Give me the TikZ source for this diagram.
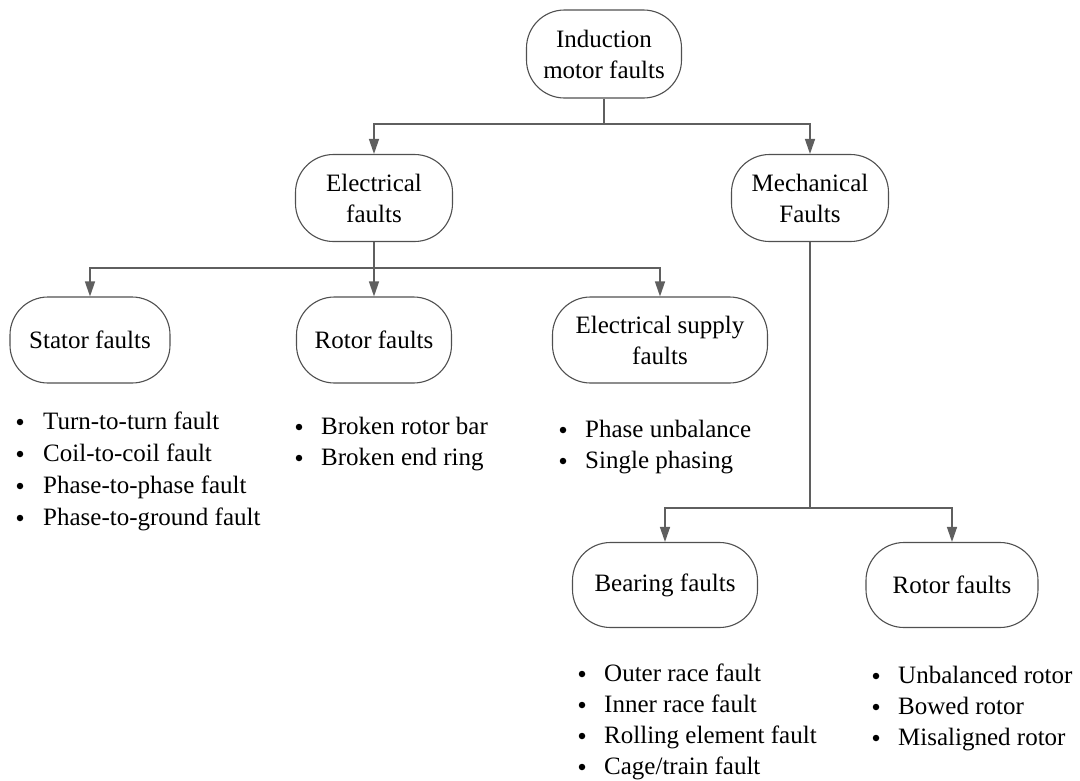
\documentclass[tikz,border=0pt]{standalone}
\usepackage{fontspec}
\setmainfont{Liberation Serif}
\usetikzlibrary{arrows.meta}
\definecolor{linec}{RGB}{95,95,95}
\definecolor{boxc}{RGB}{80,80,80}
\begin{document}
\begin{tikzpicture}[x=1pt,y=-1pt,
  box/.style={draw=boxc, line width=1.1pt, rounded corners=38pt, align=center, inner sep=0pt,
    font=\fontsize{25}{31}\selectfont},
  conn/.style={draw=linec, line width=1.4pt},
  arr/.style={conn, -{Triangle[width=10pt,length=15pt]}},
  item/.style={anchor=base west, inner sep=0pt, font=\fontsize{25}{30}\selectfont},
  bul/.style={circle, fill=black, inner sep=0pt, minimum size=6.5pt}
]
\useasboundingbox (0,0) rectangle (1080,780);

% boxes
\node[box, minimum width=155pt, minimum height=88pt] (top) at (604,54) {Induction\\motor faults};
\node[box, minimum width=157pt, minimum height=87pt] (elec) at (374,198) {Electrical\\faults};
\node[box, minimum width=157pt, minimum height=87pt] (mech) at (810,198) {Mechanical\\Faults};
\node[box, minimum width=160pt, minimum height=86pt] (stator) at (90,340) {Stator faults};
\node[box, minimum width=155pt, minimum height=86pt] (rotor) at (374,340) {Rotor faults};
\node[box, minimum width=215pt, minimum height=86pt] (supply) at (660,340) {Electrical supply\\faults};
\node[box, minimum width=185pt, minimum height=85pt] (bearing) at (665,585) {Bearing faults};
\node[box, minimum width=172pt, minimum height=85pt] (rotorm) at (952,585) {Rotor faults};

% connectors
\coordinate (j1) at (604,124);
\draw[conn] (top) -- (j1);
\draw[arr] (j1) -| (elec);
\draw[arr] (j1) -| (mech);
\coordinate (j2) at (374,268);
\draw[conn] (elec) -- (j2);
\draw[arr] (j2) -| (stator);
\draw[arr] (j2) -- (rotor);
\draw[arr] (j2) -| (supply);
\coordinate (j3) at (810,508);
\draw[conn] (mech) -- (j3);
\draw[arr] (j3) -| (bearing);
\draw[arr] (j3) -| (rotorm);

% stator list
\node[item] (s1) at (43,429) {Turn-to-turn fault};
\node[item] (s2) at (43,461) {Coil-to-coil fault};
\node[item] (s3) at (43,493) {Phase-to-phase fault};
\node[item] (s4) at (43,525) {Phase-to-ground fault};
\node[bul] (sb1) at (20,422) {};
\node[bul] (sb2) at (20,454) {};
\node[bul] (sb3) at (20,486) {};
\node[bul] (sb4) at (20,518) {};

% rotor list
\node[item] (r1) at (321,434) {Broken rotor bar};
\node[item] (r2) at (321,465) {Broken end ring};
\node[bul] (rb1) at (299,427) {};
\node[bul] (rb2) at (299,458) {};

% supply list
\node[item] (p1) at (585,437) {Phase unbalance};
\node[item] (p2) at (585,468) {Single phasing};
\node[bul] (pb1) at (563,430) {};
\node[bul] (pb2) at (563,461) {};

% bearing list
\node[item] (b1) at (604,681) {Outer race fault};
\node[item] (b2) at (604,712) {Inner race fault};
\node[item] (b3) at (604,743) {Rolling element fault};
\node[item] (b4) at (604,774) {Cage/train fault};
\node[bul] (bb1) at (582,674) {};
\node[bul] (bb2) at (582,705) {};
\node[bul] (bb3) at (582,736) {};
\node[bul] (bb4) at (582,767) {};

% mechanical rotor list
\node[item] (m1) at (898,683) {Unbalanced rotor};
\node[item] (m2) at (898,714) {Bowed rotor};
\node[item] (m3) at (898,745) {Misaligned rotor};
\node[bul] (mb1) at (876,676) {};
\node[bul] (mb2) at (876,707) {};
\node[bul] (mb3) at (876,738) {};
\end{tikzpicture}
\end{document}
